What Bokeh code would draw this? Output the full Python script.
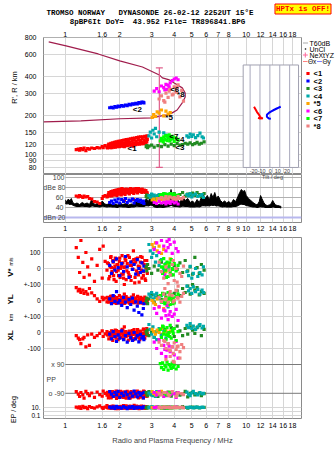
import math
from bokeh.plotting import figure
from bokeh.models import (Range1d, LinearScale, LogScale, FixedTicker,
                          PrintfTickFormatter, Label)
from bokeh.layouts import column, row
from bokeh.embed import file_html
from bokeh.resources import INLINE
from bokeh.core.properties import value

# ------------------------------------------------------------------ data
FREQ_TICKS_TOP = [1, 1.6, 2, 3, 4, 5, 6, 7, 8, 10, 12, 14, 16, 18]
FREQ_TICKS_MID = [1, 1.6, 2, 3, 4, 5, 6, 7, 8, 9, 10, 12, 14, 16, 18]
FREQ_TICKS_BOT = [1, 1.6, 2, 3, 4, 5, 6, 7, 8, 10, 12, 14, 16, 18]
RANGE_TICKS = [80, 90, 100, 120, 150, 200, 300, 400, 600, 800]
DB_TICKS = [100, 80, 60, 40]
DB_LABELS = ["100", "dBe 80", "60", "40"]
DBN_LEVEL = 20
DBN_LABEL = "dBn 20"
V_TICKS = [100, 0, -100, -200, -300, -400, -500]
V_TICK_LABELS = ["100", "0", "+-100", "0", "+-100", "0", "-100"]
PP_LEVELS = [90, -90]
PP_LABELS = ["x 90", "o -90"]
EP_TICKS = [10, 0.1]
EP_TICK_LABELS = ["10.", "0.1"]
EP_LINES = [1]
TILT_TICKS = [-20, -10, 0, 10, 20]

HEADER1 = "TROMSO NORWAY   DYNASONDE 26-02-12 2252UT 15\u00b0E"
HEADER2 = "8pBP6It DoY=  43.952 File= TR896841.BPG"
WARNING = "HPTx is OFF!"

CLUSTER_NAMES = ["<1", "<2", "<3", "<4", "*5", "<6", "<7", "*8"]
CLUSTER_COLORS = ["#ff0000", "#0000ff", "#228b22", "#00aaaa",
                  "#ffa500", "#ff00ff", "#00ff00", "#f08080"]

# profile (NeXtYZ) curve
prof_f = [0.81, 1.01, 1.52, 2.0, 2.67, 3.31, 3.44, 3.76, 4.0, 4.43, 4.6, 4.6,
          4.43, 4.15, 3.9, 3.66, 3.3, 3.03, 2.0, 1.22, 0.76]
prof_h = [745, 693, 601, 531, 477, 414, 393, 379, 359, 329, 300, 280,
          252, 222, 211, 204, 198, 193, 190, 183, 180]

# error bar
err_f = 3.31
err_lo = 80
err_hi = 470

# tilt inset
tilt_red_x = [-16, -15, -14, -13, -12, -11, -10, -9, -7, -10, -12]
tilt_red_h = [235, 228, 221, 214, 209, 204, 198, 193, 192, 191, 193]
tilt_blue_x = [11, 9, 7, 4, 1, -1, -3, -3, -1, 1]
tilt_blue_h = [235, 232, 228, 222, 216, 211, 204, 197, 191, 190]

# cluster tags in the ionogram
tag_f = [2.21, 2.36, 4.05, 4.05, 3.57, 3.8, 3.76, 4.15]
tag_h = [113, 226, 115, 132, 196, 317, 139, 290]
tag_t = ["<1", "<2", "<3", "<4", "*5", "<6", "<7", "*8"]

# noise level (dBn)
noise_f = [1.00, 1.02, 1.04, 1.06, 1.08, 1.10, 1.13, 1.16, 1.20, 1.24,
           1.28, 1.32, 1.36, 1.40, 1.42, 1.46, 1.50, 1.55, 1.60, 1.65,
           1.70, 1.76, 1.82, 1.88, 1.94, 2.00, 2.08, 2.16, 2.24, 2.32,
           2.40, 2.48, 2.56, 2.64, 2.72, 2.80, 2.88, 2.96, 3.04, 3.12,
           3.22, 3.34, 3.46, 3.58, 3.70, 3.78, 3.84, 3.92, 4.02, 4.15,
           4.30, 4.45, 4.60, 4.75, 4.90, 5.05, 5.20, 5.35, 5.50, 5.65,
           5.80, 5.95, 6.10, 6.25, 6.40, 6.55, 6.70, 6.85, 7.00, 7.20,
           7.40, 7.60, 7.80, 8.00, 8.25, 8.50, 8.75, 9.00, 9.20, 9.40,
           9.60, 9.80, 10.0, 10.3, 10.6, 10.9, 11.2, 11.5, 11.8, 12.0,
           12.2, 12.5, 12.8, 13.1, 13.4, 13.7, 14.0, 14.2, 14.5, 14.9,
           15.3, 15.6]
noise_hi = [55, 52, 57, 53, 58, 50, 47, 49, 46, 50,
            47, 49, 46, 56, 50, 46, 48, 45, 53, 47,
            46, 48, 45, 47, 45, 49, 46, 48, 45, 47,
            46, 55, 48, 52, 47, 58, 52, 63, 58, 47,
            45, 47, 45, 48, 50, 62, 76, 60, 52, 56,
            50, 62, 54, 58, 50, 53, 48, 56, 50, 60,
            66, 58, 64, 55, 68, 60, 70, 58, 63, 54,
            50, 53, 49, 52, 48, 56, 52, 62, 70, 76,
            72, 74, 64, 58, 54, 50, 47, 45, 52, 64,
            58, 50, 45, 44, 45, 47, 54, 50, 45, 44,
            43, 42]
noise_lo = [48, 47, 48, 46, 47, 45, 43, 42, 42, 43,
            42, 42, 41, 43, 43, 42, 42, 41, 43, 42,
            41, 42, 41, 41, 40, 42, 41, 41, 40, 41,
            41, 43, 42, 42, 42, 44, 43, 45, 44, 41,
            40, 41, 40, 41, 42, 43, 45, 43, 42, 42,
            41, 43, 42, 42, 41, 41, 41, 42, 41, 43,
            44, 43, 44, 43, 45, 44, 45, 43, 44, 42,
            41, 42, 41, 41, 41, 42, 42, 44, 46, 47,
            46, 46, 44, 43, 42, 41, 41, 40, 41, 42,
            41, 41, 40, 40, 40, 40, 41, 41, 40, 40,
            40, 39]

# echoes: frequency, range, amplitude, V*, YL, XL, PP, EP
red_f = [1.15, 1.18, 1.20, 1.22, 1.25, 1.27, 1.30, 1.33, 1.36, 1.40,
         1.45, 1.50, 1.55, 1.60, 1.62, 1.66, 1.70, 1.73, 1.76, 1.78,
         1.80, 1.82, 1.84, 1.86, 1.88, 1.90, 1.92, 1.95, 1.97, 2.00,
         2.02, 2.05, 2.08, 2.10, 2.13, 2.16, 2.19, 2.22, 2.25, 2.28,
         2.31, 2.34, 2.37, 2.40, 2.43, 2.46, 2.50, 2.53, 2.56, 2.60,
         2.63, 2.66, 2.70, 2.73, 2.76, 2.79, 2.82, 2.84, 2.38, 2.12,
         1.71, 1.74, 1.77, 1.79, 1.81, 1.83, 1.85, 1.87, 1.89, 1.91,
         1.93, 1.96, 1.99, 2.01, 2.04, 2.06, 2.09, 2.11, 2.14, 2.17,
         2.20, 2.23, 2.26, 2.29, 2.32, 2.35, 2.39, 2.42, 2.45, 2.48,
         2.51, 2.54, 2.58, 2.61, 2.65, 2.68, 2.71, 2.75, 2.78, 2.83]
red_r = [110, 111, 109, 112, 110, 113, 108, 112, 111, 113,
         112, 114, 113, 116, 114, 118, 115, 119, 117, 121,
         116, 120, 118, 122, 117, 121, 119, 124, 118, 122,
         120, 125, 119, 123, 121, 126, 120, 127, 122, 125,
         121, 128, 123, 130, 122, 127, 124, 131, 123, 129,
         125, 133, 124, 130, 127, 135, 126, 132, 117, 116,
         113, 121, 114, 123, 114, 124, 115, 125, 115, 126,
         116, 127, 116, 128, 117, 129, 117, 130, 118, 131,
         118, 132, 119, 133, 119, 134, 120, 135, 120, 136,
         121, 137, 121, 138, 122, 138, 122, 139, 123, 140]
red_a = [63, 61, 64, 62, 60, 63, 61, 62, 58, 57,
         52, 51, 48, 58, 62, 64, 61, 66, 63, 67,
         64, 69, 66, 70, 65, 71, 68, 72, 67, 73,
         70, 74, 69, 75, 71, 74, 72, 76, 70, 75,
         73, 77, 71, 76, 74, 78, 72, 77, 74, 76,
         73, 77, 72, 75, 70, 74, 68, 65, 56, 54,
         62, 70, 64, 72, 63, 73, 65, 74, 66, 75,
         64, 76, 67, 77, 65, 78, 68, 76, 66, 77,
         69, 75, 67, 78, 70, 76, 68, 77, 71, 75,
         69, 78, 72, 76, 70, 74, 73, 72, 71, 70]
red_v = [131, 69, -25, 175, 38, -56, 100, 10, -40, 60,
         -80, 20, 120, -60, 140, 45, -10, 30, -50, 70,
         5, -30, 40, -70, 15, 55, -20, 25, -45, 65,
         0, -35, 35, -60, 10, 50, -15, 80, -40, 20,
         -75, 45, -5, 30, -55, 60, -25, 15, -85, 40,
         -10, 70, -45, 25, -65, 5, 50, -30, 110, -100,
         35, -65, 10, 75, -20, 50, -45, 0, 65, -80,
         25, -10, 45, -55, 15, 80, -35, 5, 60, -70,
         30, -25, 70, -50, 20, -5, 55, -90, 40, -15,
         65, -40, 10, 75, -60, 35, -20, 50, -75, 0]
red_yl = [80, 60, 70, 50, 65, 45, 55, 40, 75, 48,
          30, 10, -5, 20, 5, 15, -8, 10, 2, 25,
          -5, 12, -12, 8, 0, -10, 18, -3, 6, -15,
          4, 22, -8, 9, -18, 3, 14, -6, -12, 7,
          -2, 16, -14, 1, -9, 11, -4, -16, 6, -7,
          13, -11, -1, -13, 4, -6, -18, 2, 35, 40,
          20, -10, 5, 28, -15, 12, -5, 24, 0, -18,
          15, -8, 30, -3, 10, -20, 18, -12, 6, 25,
          -6, 14, -16, 2, 22, -9, 8, -14, 16, -2,
          26, -11, 4, 19, -17, 11, -4, 21, -7, 3]
red_xl = [-20, -35, -45, -70, -40, -30, -90, -15, -80, -10,
          -30, -20, -5, 10, -25, -8, 5, -15, -2, -20,
          8, -12, -28, 3, -10, -22, 12, -6, -18, 0,
          -32, -4, 15, -14, -26, 6, -9, -20, 2, -16,
          -38, -3, -12, 18, -7, -24, 4, -11, -30, 9,
          -5, -19, 20, -2, -15, 12, 25, -8, -45, 35,
          -15, -40, 0, -28, 10, -50, -5, -22, 15, -35,
          -10, -45, 5, -18, -30, 20, -8, -42, 2, -25,
          -12, -48, 8, -20, -33, 12, -6, -38, -1, -27,
          18, -14, -44, 3, -24, -9, 22, -36, -3, -16]
red_pp = [-80, -95, -110, -85, -100, -120, -78, -92, -105, -88,
          -115, -82, -98, -108, -76, -90, -102, -118, -86, -96,
          -112, -80, -94, -106, -84, -100, -122, -88, -92, -110,
          -78, -104, -96, -116, -82, -90, -108, -86, -100, -120,
          -80, -94, -112, -88, -98, -106, -76, -92, -114, -84,
          -102, -96, -118, -80, -90, -108, -86, -100, -110, -94,
          -84, -106, -92, -118, -80, -98, -110, -88, -102, -76,
          -94, -116, -86, -100, -112, -82, -96, -108, -90, -120,
          -78, -104, -92, -114, -86, -98, -110, -80, -94, -106,
          -88, -118, -84, -100, -112, -92, -76, -104, -96, -108]
red_ep = [12, 8, 15, 6, 20, 9, 11, 5, 18, 10,
          7, 14, 25, 9, 6, 13, 30, 8, 11, 16,
          7, 10, 22, 9, 12, 5, 17, 8, 14, 11,
          6, 19, 10, 28, 7, 12, 9, 15, 6, 21,
          10, 8, 13, 35, 7, 11, 16, 9, 5, 12,
          24, 8, 10, 14, 6, 18, 9, 11, 7, 13,
          9, 14, 7, 11, 20, 8, 12, 6, 16, 10,
          13, 5, 9, 18, 11, 7, 15, 10, 8, 26,
          12, 9, 14, 6, 11, 17, 8, 13, 10, 22,
          7, 12, 9, 15, 11, 8, 19, 10, 13, 9]

blue_f = [1.76, 1.80, 1.84, 1.88, 1.92, 1.96, 2.00, 2.05, 2.10, 2.15, 2.20,
          2.25, 2.30, 2.35, 2.40, 2.45, 2.50, 2.55, 2.60, 2.65, 2.70, 2.72]
blue_r = [231, 233, 230, 236, 234, 238, 236, 240, 238, 242, 240,
          245, 243, 248, 246, 250, 248, 253, 251, 256, 254, 252]
blue_a = [50, 53, 48, 55, 51, 57, 49, 56, 52, 58, 50,
          55, 53, 57, 49, 54, 56, 52, 55, 50, 53, 48]
blue_v = [20, -30, 45, -10, 60, 5, -45, 30, -20, 75, 10,
          -55, 40, -5, 25, -35, 55, 0, -25, 35, -15, 15]
blue_yl = [10, -20, 30, -5, 55, -15, 0, -30, 20, -10, -45,
           5, -25, 15, -60, -8, -35, -75, -12, -90, -50, -20]
blue_xl = [-10, -40, 5, -25, -55, -15, -35, 10, -45, -20, -60,
           -5, -30, -50, 0, -40, -20, -58, -12, -35, -25, -45]
blue_pp = [-80, -95, -110, -85, -100, -78, -115, -90, -105, -82, -98,
           -120, -88, -108, -76, -94, -112, -86, -102, -92, -118, -84]
blue_ep = [12, 8, 15, 6, 20, 9, 11, 7, 18, 10, 5,
           14, 9, 16, 6, 12, 8, 13, 10, 7, 15, 11]

green_f = [2.80, 2.82, 2.85, 2.90, 3.00, 3.10, 3.25, 3.40, 3.55, 3.70, 3.85, 4.00,
           4.15, 4.30, 4.45, 4.60, 4.75, 4.90, 5.05, 5.20, 5.35, 5.50, 5.65, 5.85]
green_r = [116, 118, 114, 117, 119, 115, 118, 116, 120, 117, 121, 118,
           122, 119, 120, 123, 121, 124, 120, 122, 125, 121, 123, 126]
green_a = [62, 65, 60, 63, 66, 61, 64, 62, 67, 63, 65, 68,
           64, 66, 70, 63, 67, 65, 69, 64, 70, 66, 62, 68]
green_v = [10, -15, 25, 0, -30, 15, -10, 40, -20, 5, -40, 20,
           -5, 35, -25, 50, -15, 10, -35, 69, 6, -31, 25, -10]
green_yl = [-5, 15, -20, 10, 35, -10, 25, 5, 40, -15, 20, 45,
            60, 30, 75, 50, 90, 40, 100, 65, 80, 35, 55, 45]
green_xl = [5, -10, 15, -20, 0, -30, 10, -15, 20, -5, 30, -25,
            40, 10, -20, 25, -10, 35, 15, -5, 30, 44, -19, 20]
green_pp = [-85, -95, -105, -80, -100, -90, -110, -88, -98, -82, -108, -92,
            -86, -102, -94, -78, -112, -90, -84, -100, -96, -88, -104, -92]
green_ep = [10, 7, 14, 9, 12, 8, 15, 11, 6, 13, 9, 10,
            12, 8, 16, 10, 7, 11, 13, 9, 12, 8, 10, 11]

teal_f = [2.90, 2.95, 3.00, 3.05, 3.10, 3.15, 3.20, 3.30, 3.40, 3.50, 3.60,
          3.70, 4.70, 4.80, 4.90, 5.00, 5.10, 5.25, 5.40, 5.55, 5.70, 5.80]
teal_r = [140, 150, 135, 155, 145, 160, 138, 150, 132, 148, 142,
          136, 140, 137, 145, 139, 143, 136, 141, 147, 138, 135]
teal_a = [64, 60, 67, 62, 65, 58, 63, 66, 61, 64, 60,
          62, 66, 63, 68, 61, 65, 67, 62, 64, 66, 60]
teal_v = [150, 110, 70, 95, 130, 40, 80, 20, 55, -10, 30,
          5, -20, -45, 13, -60, -30, 0, -50, -25, -40, 10]
teal_yl = [40, 25, 50, 10, 35, 20, 45, 15, 30, 0, -20,
           -40, 90, 60, 75, 45, 85, 55, 70, 40, 65, 50]
teal_xl = [50, 20, -10, 35, -30, 5, -45, 25, -20, 10, -35,
           0, 45, 30, 56, 25, 40, 20, 35, 50, 28, 38]
teal_pp = [-88, -96, -84, -104, -92, -110, -80, -98, -90, -86, -100,
           -94, -82, -96, -104, -88, -78, -92, -100, -86, -94, -90]
teal_ep = [9, 12, 8, 14, 10, 7, 13, 11, 9, 12, 10,
           8, 11, 9, 12, 10, 8, 13, 11, 9, 12, 10]

orange_f = [3.02, 3.08, 3.15, 3.22, 3.30, 3.40, 3.50, 3.60, 3.70, 3.80]
orange_r = [195, 205, 198, 215, 210, 222, 200, 218, 206, 212]
orange_a = [55, 57, 52, 58, 54, 56, 53, 57, 55, 52]
orange_v = [150, 130, 160, 110, 140, 95, 120, -20, 30, 60]
orange_yl = [0, -15, -25, 10, -40, -5, -50, 20, -30, 5]
orange_xl = [20, 5, -10, 15, 0, 25, -5, 10, -15, 8]
orange_pp = [-80, -90, -100, -85, -95, -78, -105, -88, -92, -84]
orange_ep = [10, 8, 12, 9, 11, 7, 13, 10, 9, 11]

magenta_f = [3.10, 3.20, 3.30, 3.40, 3.50, 3.60, 3.65, 3.70, 3.80, 3.90,
             4.00, 4.10, 4.20, 3.55, 3.75]
magenta_r = [310, 325, 307, 340, 330, 350, 320, 345, 360, 375,
             385, 392, 380, 317, 335]
magenta_a = [50, 48, 52, 49, 51, 47, 53, 50, 48, 52, 49, 51, 47, 50, 53]
magenta_v = [120, 160, 100, 175, 140, 110, 170, 130, 150, 95,
             165, 125, 105, -40, 180]
magenta_yl = [-50, -80, -40, -110, -60, -95, -30, -120, -70, -100,
              -85, -55, -125, -65, -90]
magenta_xl = [-60, -100, -45, -130, -80, -150, -110, -70, -120, -90,
              -140, -55, -160, -105, -85]
magenta_pp = [-85, -100, -80, -95, -110, -90, -105, -88, -98, -82,
              -92, -115, -86, -100, -94]
magenta_ep = [10, 12, 8, 11, 9, 13, 10, 7, 12, 9, 11, 14, 10, 8, 12]

lime_f = [3.35, 3.40, 3.45, 3.50, 3.55, 3.60, 3.65, 3.70, 3.75, 3.80,
          3.85, 3.90, 3.95, 4.00, 4.10, 4.20, 3.48, 3.62, 3.78, 3.92]
lime_r = [128, 134, 130, 138, 132, 141, 129, 136, 143, 131,
          139, 133, 137, 127, 135, 130, 126, 140, 128, 134]
lime_a = [64, 66, 63, 68, 65, 67, 64, 66, 63, 68,
          65, 64, 67, 66, 63, 65, 66, 64, 67, 65]
lime_v = [50, 10, -30, 62, 25, -10, 40, -50, 15, -25,
          55, 0, -40, 30, -15, 20, 5, -56, 35, -5]
lime_yl = [30, -10, 45, 5, -20, 20, -5, 50, 10, -25,
           35, 0, 15, -15, 25, 40, -10, 5, 20, -20]
lime_xl = [20, -30, 40, -10, 10, -45, 30, -20, 0, 44,
           -35, 15, -5, 25, -50, 5, 35, -15, -25, 10]
lime_pp = [95, 70, 100, 60, 85, 75, 105, 55, 90, 80,
           65, 98, 72, 88, 62, 78, -90, -100, -85, 92]
lime_ep = [10, 8, 12, 9, 11, 10, 7, 13, 9, 11,
           10, 8, 12, 10, 9, 11, 10, 12, 8, 11]

salmon_f = [3.30, 3.40, 3.50, 3.60, 3.70, 3.80, 3.90, 4.00, 4.10, 4.20,
            4.30, 4.40, 4.50, 3.55, 3.75, 3.95, 4.15]
salmon_r = [270, 285, 262, 300, 278, 320, 290, 335, 305, 347,
            280, 315, 260, 255, 310, 295, 330]
salmon_a = [58, 60, 56, 62, 57, 61, 59, 60, 56, 62, 58, 57, 60, 59, 61, 57, 58]
salmon_v = [40, -20, -60, 10, -94, -40, 25, -75, 0, -110,
            -30, -50, 15, -125, -10, 50, -85]
salmon_yl = [20, -5, 40, 10, -12, 55, 30, 0, 63, 15,
             -10, 25, 45, 5, 35, -8, 18]
salmon_xl = [-60, -80, -50, -100, -70, -112, -90, -65, -105, -85,
             -120, -75, -95, -55, -110, -130, -88]
salmon_pp = [-90, -100, -85, 120, -95, 140, -80, 105, -110, -88,
             130, -92, -98, -86, -104, 110, -94]
salmon_ep = [11, 9, 13, 10, 12, 8, 10, 14, 9, 11, 10, 12, 8, 13, 10, 9, 11]

CLUSTERS = [
    (red_f, red_r, red_a, red_v, red_yl, red_xl, red_pp, red_ep),
    (blue_f, blue_r, blue_a, blue_v, blue_yl, blue_xl, blue_pp, blue_ep),
    (green_f, green_r, green_a, green_v, green_yl, green_xl, green_pp, green_ep),
    (teal_f, teal_r, teal_a, teal_v, teal_yl, teal_xl, teal_pp, teal_ep),
    (orange_f, orange_r, orange_a, orange_v, orange_yl, orange_xl, orange_pp, orange_ep),
    (magenta_f, magenta_r, magenta_a, magenta_v, magenta_yl, magenta_xl, magenta_pp, magenta_ep),
    (lime_f, lime_r, lime_a, lime_v, lime_yl, lime_xl, lime_pp, lime_ep),
    (salmon_f, salmon_r, salmon_a, salmon_v, salmon_yl, salmon_xl, salmon_pp, salmon_ep),
]


def trim(*cols):
    n = min(len(c) for c in cols)
    return [list(c[:n]) for c in cols]


CLUSTERS = [trim(*c) for c in CLUSTERS]
noise_f, noise_lo, noise_hi = trim(noise_f, noise_lo, noise_hi)

# ------------------------------------------------------------------ layout / style
TOTAL_W, TOTAL_H = 335, 451
HEAD_H = 28
LEFT_W, RIGHT_W = 20, 33
MID_W = TOTAL_W - LEFT_W - RIGHT_W
FL = 40                     # frame left, canvas px
F_MIN, F_MAX = 0.758, 20.2
H1, H2, H3 = 146, 60, 217
FONT = "Liberation Sans"
MONO = "Liberation Mono"
HEAD_SIZE = "7.5px"
GRID = "#d6d6d6"
FRAME = "#8a8a8a"
MS = 3.2

# stacked bands of the lower panel, in V* units
V_MIN, V_MAX = -937.5, 193.75
YL_OFF, XL_OFF, PP_OFF = -200, -400, -690
EP_V10, EP_V_PER_DEC = -868.75, 25.0
EP_MIN = 10 ** (1 + (V_MIN - EP_V10) / EP_V_PER_DEC)
EP_MAX = 10 ** (1 + (V_MAX - EP_V10) / EP_V_PER_DEC)
TILT_MIN, TILT_MAX = -229, 32
INSET = (-27, 29, 80, 494)


def strip_fig(w, h, x0, x1, y0, y1):
    p = figure(width=w, height=h, x_range=Range1d(x0, x1),
               y_range=Range1d(y1, y0), x_axis_location=None,
               y_axis_location=None, output_backend="svg",
               toolbar_location=None, min_border=0)
    p.outline_line_color = None
    p.grid.visible = False
    return p


def txt(p, text, x, y, size="7px", color="black", align="left",
        font=FONT, angle=0.0, style="normal", **kw):
    lab = Label(x=x, y=y, text=text, text_font=font, text_font_size=size,
                text_color=color, text_align=align, text_baseline="middle",
                angle=angle, text_font_style=style, **kw)
    p.add_layout(lab)
    return lab


def base_fig(height, top, bottom, y_range, y_type, xloc, yloc):
    p = figure(width=MID_W, height=height, x_axis_type="log", y_axis_type=y_type,
               x_range=Range1d(F_MIN, F_MAX), y_range=y_range,
               x_axis_location=xloc, y_axis_location=yloc,
               output_backend="svg", toolbar_location=None,
               min_border_left=FL - LEFT_W, min_border_right=1,
               min_border_top=top, min_border_bottom=bottom)
    p.outline_line_color = FRAME
    p.xgrid.grid_line_color = GRID
    p.ygrid.grid_line_color = GRID
    return p


def style_axis(ax, standoff, size="7px"):
    ax.axis_line_color = None
    ax.major_tick_line_color = None
    ax.minor_tick_line_color = None
    ax.major_tick_out = 0
    ax.major_tick_in = 0
    ax.minor_tick_out = 0
    ax.minor_tick_in = 0
    ax.major_label_standoff = standoff
    ax.major_label_text_font = FONT
    ax.major_label_text_font_size = size
    ax.major_label_text_color = "black"


def sq(p, x, y, color, **kw):
    return p.scatter(x, y, marker="square", size=MS, fill_color=color,
                     line_color=None, **kw)


def screen_label(p, text, x, y, frame_bottom, size="7px", align="left", **kw):
    # x, y: canvas px; converted to frame-relative screen units
    p.add_layout(Label(x=x - FL, y=frame_bottom - y, x_units="screen",
                       y_units="screen", text=text, text_font=FONT,
                       text_font_size=size, text_align=align,
                       text_baseline="middle", **kw))


# ------------------------------------------------------------------ header
head = strip_fig(TOTAL_W, HEAD_H, 0, TOTAL_W, 0, HEAD_H)
txt(head, HEADER1.replace("  ", "\u00a0\u00a0"), 149.5, 12, size=HEAD_SIZE,
    font=MONO, align="center", style="bold")
txt(head, HEADER2.replace("  ", "\u00a0\u00a0"), 157, 21, size=HEAD_SIZE,
    font=MONO, align="center", style="bold")
warn_kw = dict(size=HEAD_SIZE, font=MONO, color="#ff0000", align="center",
               background_fill_color="#ffff00", border_line_color="#ff0000",
               style="bold")
try:
    txt(head, WARNING, 302.5, 8.5, padding=1, **warn_kw)
except Exception:
    txt(head, WARNING, 302.5, 8.5, **warn_kw)

# ------------------------------------------------------------------ left strip
left = strip_fig(LEFT_W, TOTAL_H - HEAD_H, 0, LEFT_W, HEAD_H, TOTAL_H)
txt(left, "R', R / km", 13.5, 87, size="7.5px", align="center", angle=math.pi / 2)
txt(left, "V*", 10, 272, size="8px", style="bold", align="center", angle=math.pi / 2)
txt(left, "m/s", 10.5, 261, size="5px", align="center", angle=math.pi / 2)
txt(left, "YL", 10, 299, size="8px", style="bold", align="center", angle=math.pi / 2)
txt(left, "km", 10, 317, size="6px", align="center", angle=math.pi / 2)
txt(left, "XL", 10, 335, size="8px", style="bold", align="center", angle=math.pi / 2)
txt(left, "EP / deg", 12.5, 409, size="7px", align="center", angle=math.pi / 2)

# ------------------------------------------------------------------ right strip (legend)
right = strip_fig(RIGHT_W, TOTAL_H - HEAD_H, TOTAL_W - RIGHT_W, TOTAL_W, HEAD_H, TOTAL_H)
right.segment(x0=[302.5], y0=[42.5], x1=[307.5], y1=[42.5], line_color="#aaaaaa")
txt(right, "T60dB", 309, 42.5)
right.scatter([305], [48.5], marker="circle", size=1.6, fill_color="black",
              line_color=None)
txt(right, "UnCl", 309, 48.5)
right.scatter([304.8], [54.5], marker="cross", size=5, line_color="#ff6699")
txt(right, "NeXtYZ", 309, 54.5)
right.segment(x0=[302.5], y0=[61], x1=[307], y1=[61], line_color="#ff8080")
txt(right, "\u0398x", 307.5, 61, size="6.5px")
right.segment(x0=[316.5], y0=[61], x1=[321.5], y1=[61], line_color="#8080ff")
txt(right, "\u0398y", 322, 61, size="6.5px")
leg_y = [73 + 7.5 * i for i in range(len(CLUSTER_NAMES))]
right.scatter([307.5] * len(leg_y), leg_y, marker="square", size=MS,
              fill_color=CLUSTER_COLORS, line_color=None)
for nm, yy in zip(CLUSTER_NAMES, leg_y):
    txt(right, nm, 313, yy, size="7.5px", style="bold")

# ------------------------------------------------------------------ panel 1
p1 = base_fig(H1, 37 - HEAD_H, 0, Range1d(70.6, 805), "log", "above", "left")
ax = p1.xaxis[0]
ax.ticker = FixedTicker(ticks=FREQ_TICKS_TOP)
ax.formatter = PrintfTickFormatter(format="%g")
style_axis(ax, 1)
ay = p1.yaxis[0]
ay.ticker = FixedTicker(ticks=RANGE_TICKS)
ay.formatter = PrintfTickFormatter(format="%d")
style_axis(ay, 7)
p1.xgrid.ticker = FixedTicker(ticks=FREQ_TICKS_TOP)
p1.ygrid.ticker = FixedTicker(ticks=RANGE_TICKS)
p1.extra_x_ranges = {"tilt": Range1d(TILT_MIN, TILT_MAX)}
p1.extra_x_scales = {"tilt": LinearScale()}

p1.quad(left=INSET[0], right=INSET[1], bottom=INSET[2], top=INSET[3],
        x_range_name="tilt", fill_color="white", line_color="#a0a0b0")
p1.segment(x0=TILT_TICKS, y0=[INSET[2]] * len(TILT_TICKS), x1=TILT_TICKS,
           y1=[INSET[3]] * len(TILT_TICKS), x_range_name="tilt",
           line_color="#a8a8bc", line_width=1)

p1.line(prof_f, prof_h, line_color="#a01c4c", line_width=1.2)
p1.segment(x0=[err_f], y0=[err_lo], x1=[err_f], y1=[err_hi],
           line_color="#e0608c", line_width=1.2)
p1.scatter([err_f, err_f], [err_lo, err_hi], marker="dash", size=7,
           line_color="#e0608c", line_width=1.2)

for (cf, cr, ca, cv, cyl, cxl, cpp, cep), col in zip(CLUSTERS, CLUSTER_COLORS):
    sq(p1, cf, cr, col)

p1.line(tilt_red_x, tilt_red_h, x_range_name="tilt", line_color="#ff0000", line_width=2)
p1.line(tilt_blue_x, tilt_blue_h, x_range_name="tilt", line_color="#0000ff", line_width=2)

p1.text(x=tag_f, y=tag_h, text=tag_t, text_font=value(FONT),
        text_font_size="8px", text_font_style="bold", text_color="black",
        text_baseline="middle", text_align="left")

p1.add_layout(Label(x=0, y=174 - 170.5, x_range_name="tilt", y_units="screen",
                    text="-20-10  0  10  20".replace("  ", "\u00a0\u00a0"),
                    text_font=FONT, text_font_size="5.5px",
                    text_align="center", text_baseline="middle"))

# ------------------------------------------------------------------ panel 2
p2 = base_fig(H2, 0, 12, Range1d(10, 106), "linear", "below", None)
ax2 = p2.xaxis[0]
ax2.ticker = FixedTicker(ticks=FREQ_TICKS_MID)
ax2.formatter = PrintfTickFormatter(format="%g")
style_axis(ax2, 3)
p2.xgrid.ticker = FixedTicker(ticks=FREQ_TICKS_MID)
p2.ygrid.visible = False
p2.segment(x0=[1] * len(DB_TICKS), x1=[F_MAX] * len(DB_TICKS), y0=DB_TICKS,
           y1=DB_TICKS, line_color="#b0b0b0", line_width=1)
p2.segment(x0=[F_MIN], x1=[F_MAX], y0=[DBN_LEVEL], y1=[DBN_LEVEL],
           line_color="#b8b8ee", line_width=2)
p2.varea(x=noise_f, y1=noise_lo, y2=noise_hi, fill_color="black")
p2.line(noise_f, noise_hi, line_color="black", line_width=1)
p2.line(noise_f, noise_lo, line_color="black", line_width=1.2)
for (cf, cr, ca, cv, cyl, cxl, cpp, cep), col in zip(CLUSTERS, CLUSTER_COLORS):
    sq(p2, cf, ca, col)

db_label_right = [61, 62, 60, 60]
for lv, t, xr in zip(DB_TICKS, DB_LABELS, db_label_right):
    p2.add_layout(Label(x=xr - FL, y=lv, x_units="screen", text=t,
                        text_font=FONT, text_font_size="7px",
                        text_align="right", text_baseline="middle"))
p2.add_layout(Label(x=62 - FL, y=DBN_LEVEL, x_units="screen", text=DBN_LABEL,
                    text_font=FONT, text_font_size="7px",
                    text_align="right", text_baseline="middle"))
screen_label(p2, "Tilt / deg", 269, 176.5, 222, size="5.5px", align="center")

# ------------------------------------------------------------------ panel 3
p3 = base_fig(H3, 3, 33, Range1d(V_MIN, V_MAX), "linear", "below", "left")
p3.extra_y_ranges = {
    "yl": Range1d(V_MIN - YL_OFF, V_MAX - YL_OFF),
    "xl": Range1d(V_MIN - XL_OFF, V_MAX - XL_OFF),
    "pp": Range1d(V_MIN - PP_OFF, V_MAX - PP_OFF),
    "ep": Range1d(EP_MIN, EP_MAX),
}
p3.extra_y_scales = {"ep": LogScale()}
ax3 = p3.xaxis[0]
ax3.ticker = FixedTicker(ticks=FREQ_TICKS_BOT)
ax3.formatter = PrintfTickFormatter(format="%g")
style_axis(ax3, 4)
ax3.axis_label = "Radio and Plasma Frequency / MHz"
ax3.axis_label_text_font = FONT
ax3.axis_label_text_font_size = "7.5px"
ax3.axis_label_text_font_style = "normal"
ax3.axis_label_standoff = 5

ep_tick_pos = [EP_V10 + EP_V_PER_DEC * math.log10(e / 10.0) for e in EP_TICKS]
all_ticks = V_TICKS + ep_tick_pos
all_labels = V_TICK_LABELS + EP_TICK_LABELS
ay3 = p3.yaxis[0]
ay3.ticker = FixedTicker(ticks=all_ticks)
ay3.major_label_overrides = dict(zip(all_ticks, all_labels))
style_axis(ay3, 3, size="6.5px")
p3.xgrid.ticker = FixedTicker(ticks=FREQ_TICKS_BOT)
p3.ygrid.ticker = FixedTicker(ticks=all_ticks)

p3.segment(x0=[1] * len(PP_LEVELS), x1=[F_MAX] * len(PP_LEVELS), y0=PP_LEVELS,
           y1=PP_LEVELS, y_range_name="pp", line_color="#7a7a7a", line_width=1)
p3.segment(x0=[F_MIN] * len(EP_LINES), x1=[F_MAX] * len(EP_LINES), y0=EP_LINES,
           y1=EP_LINES, y_range_name="ep", line_color="#d6d6d6", line_width=1)

for (cf, cr, ca, cv, cyl, cxl, cpp, cep), col in zip(CLUSTERS, CLUSTER_COLORS):
    sq(p3, cf, cv, col)
    sq(p3, cf, cyl, col, y_range_name="yl")
    sq(p3, cf, cxl, col, y_range_name="xl")
    sq(p3, cf, cpp, col, y_range_name="pp")
    sq(p3, cf, cep, col, y_range_name="ep")

screen_label(p3, "PP", 43, 379, 418)
for lv, t in zip(PP_LEVELS, PP_LABELS):
    p3.add_layout(Label(x=61 - FL, y=lv, x_units="screen", y_range_name="pp",
                        text=t, text_font=FONT, text_font_size="7px",
                        text_align="right", text_baseline="middle"))

layout = column(head, row(left, column(p1, p2, p3, spacing=0), right, spacing=0),
                spacing=0)
open("out.html", "w").write(file_html(layout, INLINE))
